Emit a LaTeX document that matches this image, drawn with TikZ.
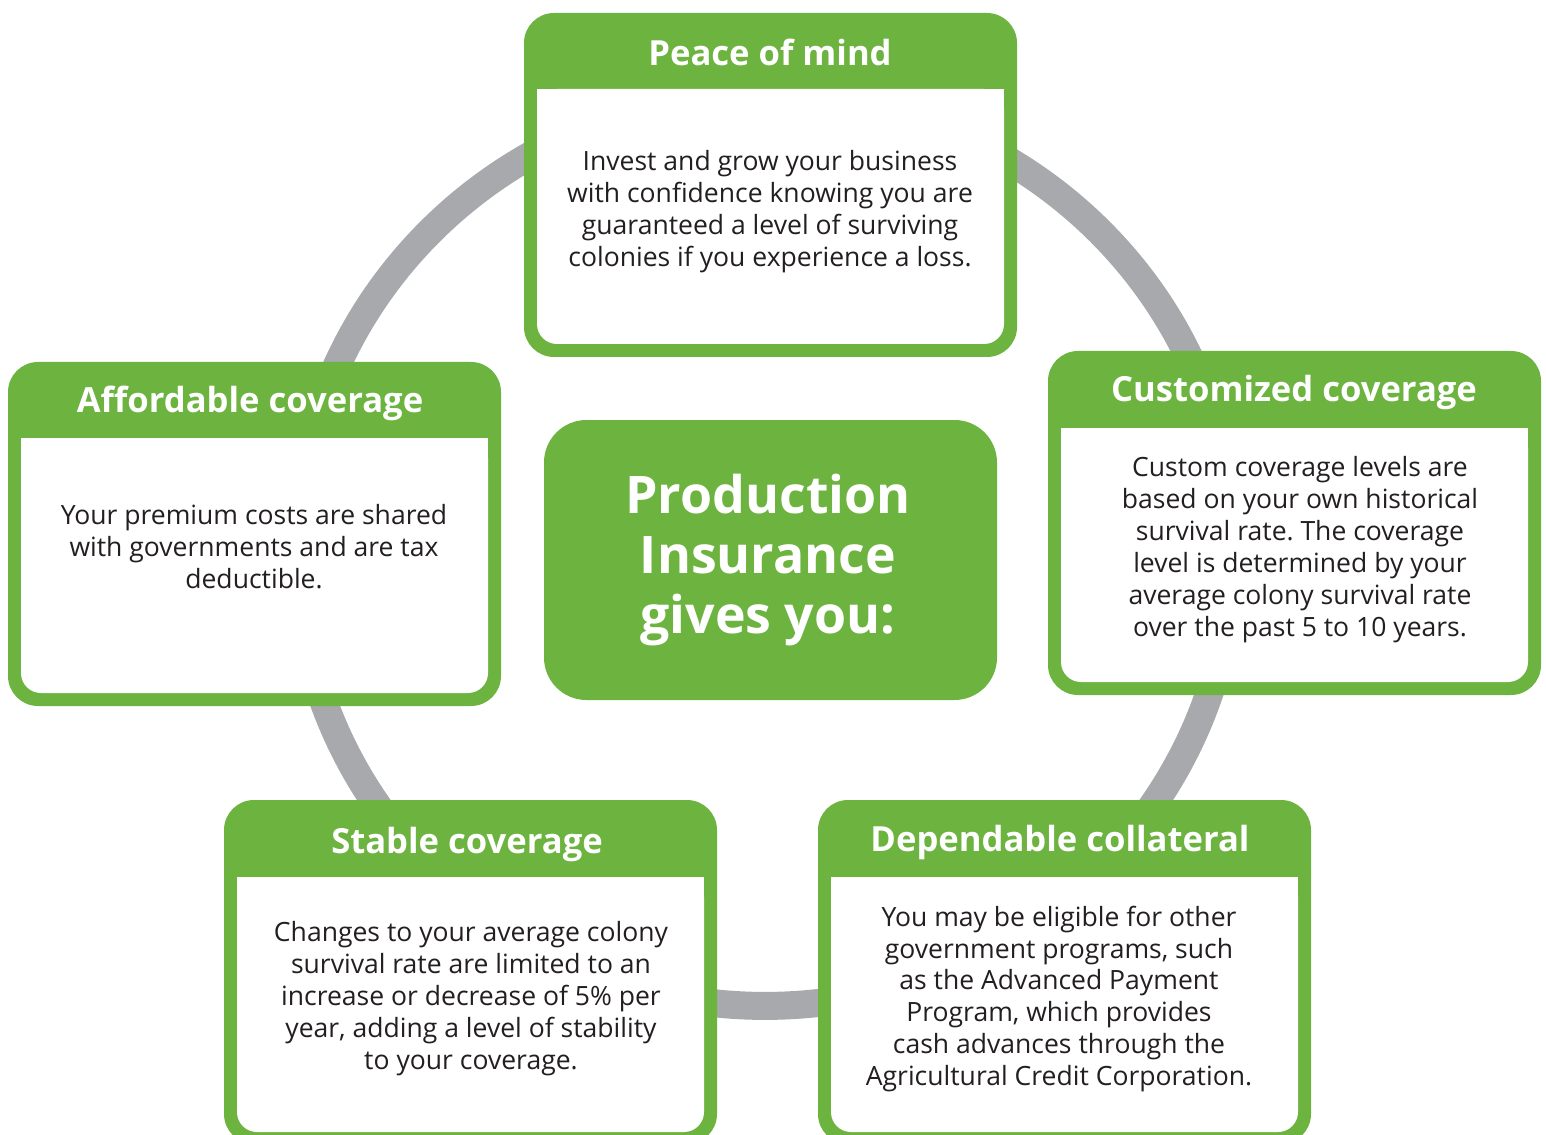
\documentclass[tikz,border=0pt]{standalone}
\usepackage{fontspec}
\setmainfont{Open Sans}
\usepackage{tikz}
\definecolor{leaf}{RGB}{109,179,63}
\definecolor{ring}{RGB}{167,169,172}
\definecolor{ink}{RGB}{35,31,32}
\frenchspacing

\begin{document}
\begin{tikzpicture}[x=0.02cm, y=-0.02cm,
    card/.style={fill=leaf, rounded corners=0.6cm},
    pane/.style={fill=white, rounded corners=0.4cm},
    head/.style={text=white, font=\fontsize{19.7}{24}\selectfont\bfseries},
    body/.style={text=ink, align=center, font=\fontsize{15.1}{18.2}\selectfont},
    hub/.style={fill=leaf, rounded corners=0.85cm},
    hubtext/.style={text=white, align=center, font=\fontsize{29.5}{34}\selectfont\bfseries}]

\clip (0,0) rectangle (1546,1135);

% grey ring behind everything
\draw[ring, line width=0.56cm] (765,550) ellipse [x radius=9.36cm, y radius=9.12cm];

% top card
\fill[card] (524,13) rectangle (1017,357);
\fill[pane] (537,89) rectangle (1004,344);
\fill[white] (537,89) rectangle (1004,200);
\node[head] (peace) at (770,52) {Peace of mind};
\node[body] (peacetxt) at (770,212) {Invest and grow your business\\with confidence knowing you are\\guaranteed a level of surviving\\colonies if you experience a loss.};

% left card
\fill[card] (8,362) rectangle (501,706);
\fill[pane] (21,438) rectangle (488,693);
\fill[white] (21,438) rectangle (488,550);
\node[head] (afford) at (250,403) {Affordable coverage};
\node[body] (affordtxt) at (254,547) {Your premium costs are shared\\with governments and are tax\\deductible.};

% right card
\fill[card] (1048,351) rectangle (1541,695);
\fill[pane] (1061,428) rectangle (1528,682);
\fill[white] (1061,428) rectangle (1528,540);
\node[head] (custom) at (1294,393) {Customized coverage};
\node[body] (customtxt) at (1300,550) {Custom coverage levels are\\based on your own historical\\survival rate. The coverage\\level is determined by your\\average colony survival rate\\over the past 5 to 10 years.};

% bottom left card
\fill[card] (224,800) rectangle (717,1144);
\fill[pane] (237,877) rectangle (704,1132);
\fill[white] (237,877) rectangle (704,990);
\node[head] (stable) at (467,845) {Stable coverage};
\node[body] (stabletxt) at (471,999) {Changes to your average colony\\survival rate are limited to an\\increase or decrease of 5\% per\\year, adding a level of stability\\to your coverage.};

% bottom right card
\fill[card] (818,800) rectangle (1311,1144);
\fill[pane] (831,877) rectangle (1298,1132);
\fill[white] (831,877) rectangle (1298,990);
\node[head] (collat) at (1060,843) {Dependable collateral};
\node[body] (collattxt) at (1059,999) {You may be eligible for other\\government programs, such\\as the Advanced Payment\\Program, which provides\\cash advances through the\\Agricultural Credit Corporation.};

% centre block
\fill[hub] (544,420) rectangle (997,700);
\node[hubtext] (insure) at (768,560) {Production\\Insurance\\gives you:};
\end{tikzpicture}
\end{document}
